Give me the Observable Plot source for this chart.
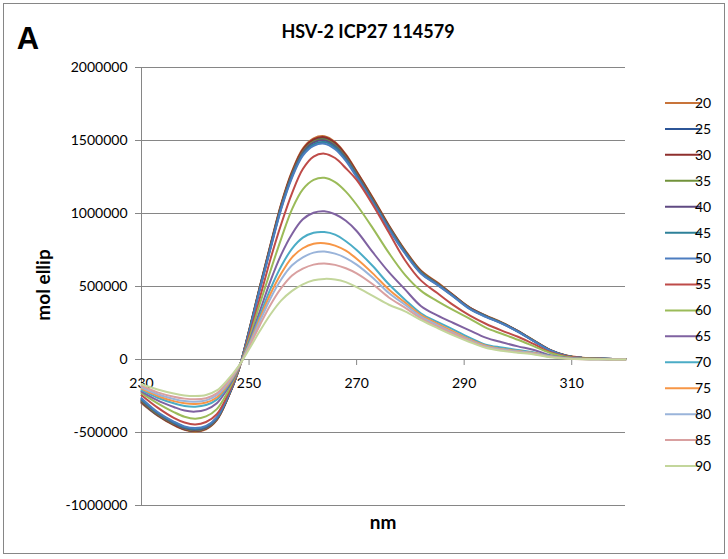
<!DOCTYPE html>
<html>
<head>
<meta charset="utf-8">
<script src="https://cdn.jsdelivr.net/npm/d3@7"></script>
<script src="https://cdn.jsdelivr.net/npm/@observablehq/plot@0.6"></script>
<style>
  html, body { margin: 0; padding: 0; background: #fff; }
  #chart { width: 728px; height: 559px; }
</style>
</head>
<body>
<div id="chart"></div>
<script>
// ---- data ----
const titleText = "HSV-2 ICP27 114579";
const panelLetter = "A";
const xLabel = "nm";
const yLabel = "mol ellip";
const xTicks = [230, 250, 270, 290, 310];
const yTicks = [-1000000, -500000, 0, 500000, 1000000, 1500000, 2000000];
const temperatures = ["20","25","30","35","40","45","50","55","60","65","70","75","80","85","90"];
const seriesColors = ["#C8743A","#2C5597","#8E2F2D","#71923A","#5F4A82","#2E8199","#4C7DC0","#BE4B48","#9BBB59","#7F62A1","#4BACC6","#F79646","#9AB4DA","#D9A0A0","#C3D69B"];

const wavelengths = [230,233,236,238,240,242,244,246,248,250,252,254,256,258,260,262,264,266,268,270,273,276,279,282,285,288,291,294,297,300,303,306,309,312,316,320];

const t20 = [-300000,-385000,-450000,-482000,-495000,-478000,-415000,-270000,-80000,200000,500000,790000,1070000,1290000,1445000,1515000,1530000,1490000,1405000,1290000,1110000,920000,750000,608000,528000,442000,358000,302000,254000,196000,130000,65000,27000,12000,5000,2000];
const t25 = [-292000,-382000,-446000,-478000,-490000,-473000,-410000,-266000,-79000,196000,493000,780000,1058000,1276000,1430000,1500000,1515000,1476000,1392000,1278000,1100000,912000,742000,602000,522000,438000,354000,299000,251000,194000,128000,64000,26000,11000,5000,2000];
const t30 = [-290000,-380000,-446000,-478000,-490000,-474000,-412000,-268000,-80000,195000,495000,785000,1063000,1283000,1438000,1507000,1523000,1484000,1400000,1285000,1105000,915000,745000,604000,524000,440000,355000,298000,251000,194000,128000,64000,26000,11000,5000,2000];
const t35 = [-282000,-375000,-440000,-473000,-486000,-470000,-408000,-265000,-78000,193000,490000,776000,1053000,1270000,1423000,1492000,1507000,1468000,1385000,1272000,1094000,907000,739000,599000,520000,436000,352000,297000,250000,193000,127000,63000,26000,11000,5000,2000];
const t40 = [-278000,-370000,-436000,-470000,-482000,-466000,-405000,-263000,-78000,190000,486000,772000,1047000,1263000,1416000,1485000,1500000,1461000,1378000,1265000,1088000,903000,735000,595000,517000,434000,351000,296000,249000,192000,126000,63000,25000,11000,5000,2000];
const t45 = [-272000,-365000,-430000,-463000,-476000,-460000,-400000,-260000,-77000,187000,482000,766000,1040000,1254000,1406000,1474000,1489000,1451000,1369000,1257000,1081000,897000,731000,591000,514000,432000,349000,294000,247000,191000,125000,62000,25000,11000,5000,2000];
const t50 = [-265000,-360000,-425000,-458000,-470000,-455000,-396000,-258000,-76000,184000,478000,760000,1033000,1246000,1396000,1463000,1478000,1440000,1360000,1249000,1074000,891000,726000,587000,511000,430000,347000,292000,246000,190000,124000,62000,25000,11000,5000,2000];
const t55 = [-245000,-330000,-400000,-432000,-445000,-428000,-375000,-245000,-75000,160000,420000,690000,930000,1140000,1305000,1390000,1410000,1380000,1310000,1230000,1060000,870000,680000,540000,455000,372000,302000,245000,198000,156000,105000,50000,22000,10000,4000,1000];
const t60 = [-230000,-300000,-360000,-392000,-405000,-390000,-340000,-225000,-70000,140000,380000,610000,830000,1030000,1165000,1230000,1245000,1215000,1150000,1060000,900000,730000,580000,470000,400000,338000,280000,218000,176000,135000,90000,45000,18000,8000,3000,1000];
const t65 = [-220000,-280000,-325000,-350000,-357000,-343000,-300000,-200000,-65000,120000,330000,540000,720000,860000,960000,1005000,1015000,995000,950000,880000,735000,598000,480000,365000,302000,250000,200000,150000,118000,90000,65000,30000,12000,5000,2000,0];
const t70 = [-210000,-262000,-300000,-318000,-323000,-312000,-275000,-185000,-60000,110000,300000,485000,640000,760000,835000,868000,873000,855000,810000,750000,640000,515000,410000,315000,257000,205000,150000,102000,82000,65000,48000,25000,10000,4000,1000,0];
const t75 = [-200000,-250000,-285000,-300000,-305000,-295000,-260000,-175000,-58000,100000,280000,450000,590000,700000,762000,793000,797000,780000,745000,690000,590000,480000,390000,304000,246000,190000,138000,95000,72000,58000,44000,22000,9000,3000,1000,0];
const t80 = [-190000,-238000,-270000,-285000,-289000,-280000,-245000,-165000,-55000,95000,260000,420000,550000,645000,700000,732000,740000,725000,695000,650000,560000,455000,375000,292000,236000,182000,132000,90000,68000,55000,42000,20000,8000,3000,1000,0];
const t85 = [-180000,-225000,-255000,-268000,-273000,-265000,-232000,-155000,-52000,85000,235000,375000,490000,575000,622000,650000,658000,648000,625000,590000,515000,425000,355000,282000,226000,175000,127000,85000,64000,50000,38000,18000,7000,2000,1000,0];
const t90 = [-170000,-205000,-233000,-246000,-250000,-243000,-212000,-140000,-48000,70000,195000,310000,405000,470000,515000,543000,552000,548000,530000,495000,435000,375000,330000,270000,216000,165000,120000,80000,60000,47000,35000,16000,6000,2000,1000,0];

const seriesValues = [t20,t25,t30,t35,t40,t45,t50,t55,t60,t65,t70,t75,t80,t85,t90];

// ---- build table ----
const rows = [];
temperatures.forEach((t, k) => {
  wavelengths.forEach((w, i) => rows.push({wl: w, v: seriesValues[k][i], t}));
});

const W = 728, H = 559;
const mL = 141, mR = 103, mT = 67, mB = 54;
const gridColor = "#868686";
const font = "Lato, 'Open Sans', sans-serif";

const chart = Plot.plot({
  width: W, height: H,
  marginLeft: mL, marginRight: mR, marginTop: mT, marginBottom: mB,
  style: {fontFamily: font, fontSize: "14px", background: "white", color: "#000"},
  x: {domain: [230, 320], axis: null},
  y: {domain: [-1000000, 2000000], axis: null},
  color: {domain: temperatures, range: seriesColors},
  marks: [
    Plot.ruleY(yTicks, {stroke: gridColor, strokeWidth: 1}),
    Plot.ruleX([230], {stroke: gridColor, strokeWidth: 1}),
    Plot.axisY(yTicks, {tickFormat: d => String(d), tickSize: 6, tickPadding: 8, stroke: gridColor, fill: "#000", fontSize: 14, label: null}),
    Plot.ruleX(xTicks.slice(1), {x: d => d, y1: 0, y2: 0, insetBottom: -6, stroke: gridColor}),
    Plot.text(xTicks, {x: d => d, y: 0, dy: 24, text: d => String(d), fill: "#000", fontSize: 14}),
    Plot.line(rows, {x: "wl", y: "v", z: "t", stroke: "t", curve: "catmull-rom", strokeWidth: 2})
  ]
});

document.getElementById("chart").appendChild(chart);

const svg = d3.select(chart);
// frame
svg.append("rect").attr("x", 3.5).attr("y", 3.5).attr("width", 721).attr("height", 550)
  .attr("fill", "none").attr("stroke", gridColor).attr("stroke-width", 1);
// panel letter
svg.append("text").attr("x", 28).attr("y", 49).text(panelLetter)
  .attr("font-family", "'Liberation Sans', Arial, sans-serif").attr("font-weight", "bold").attr("font-size", 31).attr("fill", "#000");
// title
svg.append("text").attr("x", 368).attr("y", 38).attr("text-anchor", "middle").text(titleText)
  .attr("font-family", font).attr("font-weight", "bold").attr("font-size", 18).attr("fill", "#000");
// axis labels
svg.append("text").attr("x", 383).attr("y", 529).attr("text-anchor", "middle").text(xLabel)
  .attr("font-family", font).attr("font-weight", "bold").attr("font-size", 19).attr("fill", "#000");
svg.append("text").attr("transform", "translate(50,285) rotate(-90)").attr("text-anchor", "middle").text(yLabel)
  .attr("font-family", font).attr("font-weight", "bold").attr("font-size", 19).attr("fill", "#000");
// legend
const lg = svg.append("g");
temperatures.forEach((t, i) => {
  const y = 103 + i * 25.93;
  lg.append("line").attr("x1", 665).attr("x2", 700).attr("y1", y).attr("y2", y)
    .attr("stroke", seriesColors[i]).attr("stroke-width", 2);
  lg.append("text").attr("x", 703).attr("y", y).attr("dy", "0.35em").text(t)
    .attr("font-family", font).attr("font-size", 14).attr("fill", "#000");
});
</script>
</body>
</html>
